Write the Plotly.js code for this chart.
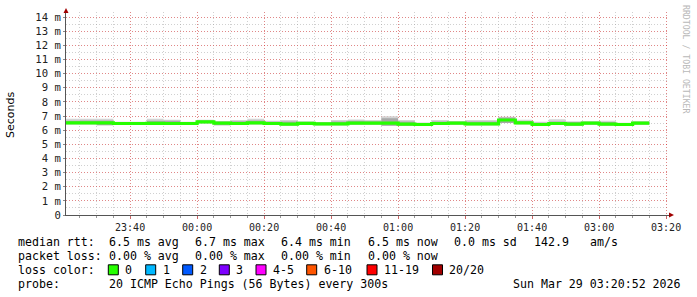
<!DOCTYPE html>
<html>
<head>
<meta charset="utf-8">
<script src="https://cdn.plot.ly/plotly-3.0.1.min.js"></script>
<style>
html,body{margin:0;padding:0;background:#fff;}
#chart{width:697px;height:297px;}
</style>
</head>
<body>
<div id="chart"></div>
<script>
// ---- data (5-minute bins, times in CET, first bin starts 23:20) ----
const firstBin = "2026-03-28 23:20:00";
const stepSeconds = 300;
const medianRtt = [6.52,6.52,6.52,6.47,6.47,6.48,6.47,6.47,6.58,6.50,6.47,6.52,6.47,6.43,6.48,6.45,6.45,6.50,6.50,6.50,6.42,6.40,6.47,6.50,6.45,6.45,6.72,6.52,6.40,6.47,6.42,6.50,6.43,6.40,6.50];
const pingMax   = [6.80,6.80,6.80,6.60,6.60,6.80,6.74,6.60,6.73,6.65,6.71,6.80,6.67,6.71,6.63,6.58,6.71,6.75,6.71,6.98,6.71,6.54,6.71,6.64,6.71,6.71,6.95,6.73,6.59,6.77,6.63,6.63,6.67,6.53,6.63];
const pingQ3    = [6.67,6.69,6.69,6.56,6.56,6.67,6.67,6.56,6.69,6.60,6.63,6.69,6.59,6.62,6.58,6.54,6.62,6.67,6.63,6.85,6.62,6.50,6.62,6.60,6.61,6.62,6.89,6.65,6.53,6.62,6.57,6.59,6.57,6.50,6.59];
const pingMin   = [6.41,6.41,6.34,6.37,6.37,6.38,6.37,6.37,6.48,6.34,6.37,6.41,6.37,6.33,6.38,6.35,6.35,6.40,6.40,6.32,6.32,6.30,6.37,6.40,6.35,6.35,6.51,6.42,6.30,6.37,6.32,6.40,6.33,6.30,6.40];

const xRange = ["2026-03-28 23:20:52", "2026-03-29 02:20:52"];
const tickTimes = ["2026-03-28 23:40","2026-03-29 00:00","2026-03-29 00:20","2026-03-29 00:40","2026-03-29 01:00","2026-03-29 01:20","2026-03-29 01:40","2026-03-29 02:00","2026-03-29 02:20"];
const tickLabels = ["23:40","00:00","00:20","00:40","01:00","01:20","01:40","03:00","03:20"];
const yTickVals = [0,1,2,3,4,5,6,7,8,9,10,11,12,13,14];
const yTickLabels = ["0","1 m","2 m","3 m","4 m","5 m","6 m","7 m","8 m","9 m","10 m","11 m","12 m","13 m","14 m"];

const statsLine1 = ["median rtt:", "6.5 ms avg", "6.7 ms max", "6.4 ms min", "6.5 ms now", "0.0 ms sd", "142.9", "am/s"];
const statsLine2 = ["packet loss:", "0.00 % avg", "0.00 % max", "0.00 % min", "0.00 % now"];
const lossLabels = ["0","1","2","3","4-5","6-10","11-19","20/20"];
const lossColors = ["#26ff00","#00b8ff","#0059ff","#7e00ff","#ff00ff","#ff5500","#ff0000","#a10000"];
const probeText = "20 ICMP Echo Pings (56 Bytes) every 300s";
const dateText = "Sun Mar 29 03:20:52 2026";

// ---- build step x positions ----
function fmt(ms){ return new Date(ms).toISOString().slice(0,19).replace("T"," "); }
const t0 = Date.parse(firstBin.replace(" ","T")+"Z");
const xs = [];
for(let i=0;i<=medianRtt.length;i++) xs.push(fmt(t0 + i*stepSeconds*1000));
function ext(a){ return a.concat([a[a.length-1]]); }

const base = {x: xs, mode:"lines", line:{shape:"hv", width:0}, hoverinfo:"skip", showlegend:false};
const traces = [
  Object.assign({}, base, {y: ext(pingMin)}),
  Object.assign({}, base, {y: ext(pingMax), fill:"tonexty", fillcolor:"#d4d4d4"}),
  Object.assign({}, base, {y: ext(pingMin)}),
  Object.assign({}, base, {y: ext(pingQ3), fill:"tonexty", fillcolor:"#a8a8a8"}),
  {x: xs, y: ext(medianRtt), mode:"lines", line:{shape:"hv", width:3.2, color:lossColors[0]}, hoverinfo:"skip", showlegend:false}
];

// ---- geometry helpers (pixel -> paper) ----
const L=66, R=669, T=12, B=215;
const px = v => (v-L)/(R-L);
const py = v => (B-v)/(B-T);

const mono = "DejaVu Sans Mono";
const annotations = [];
function txt(x,y,s,anchor){
  annotations.push({xref:"paper",yref:"paper",x:px(x),y:py(y),text:s,showarrow:false,
    xanchor:anchor||"left",yanchor:"middle",font:{family:mono,size:11.6,color:"#000"}});
}
const line1X = [16,107.3,193.3,279.3,365.5,451.5,532,588];
statsLine1.forEach((s,i)=>txt(line1X[i],241.5,s));
statsLine2.forEach((s,i)=>txt(line1X[i],255.7,s));
txt(16,269.8,"loss color:");
const boxX = [108.3,145.7,182.7,219.3,256,306.7,367,432.5];
const shapes = [];
lossLabels.forEach((s,i)=>{
  txt(boxX[i]+15,269.8,s);
  shapes.push({type:"rect",xref:"paper",yref:"paper",x0:px(boxX[i]),x1:px(boxX[i]+10),y0:py(274.8),y1:py(264.8),
    fillcolor:lossColors[i],line:{color:"#000",width:1}});
});
txt(16,284,"probe:");
txt(107.3,284,probeText);
txt(683,284,dateText,"right");

// watermark
annotations.push({xref:"paper",yref:"paper",x:px(686),y:py(59),text:"RRDTOOL / TOBI OETIKER",showarrow:false,
  textangle:90,xanchor:"center",yanchor:"middle",font:{family:mono,size:8.2,color:"#b8b8b8"}});
// y title
annotations.push({xref:"paper",yref:"paper",x:px(11),y:py(115),text:"Seconds",showarrow:false,
  textangle:-90,xanchor:"center",yanchor:"middle",font:{family:"DejaVu Sans",size:11,color:"#000"}});

// axis arrows
shapes.push({type:"path",xref:"paper",yref:"paper",line:{width:0},fillcolor:"#a00000",
  path:`M ${px(63.5)} ${py(13)} L ${px(68.5)} ${py(13)} L ${px(66)} ${py(8)} Z`});
shapes.push({type:"path",xref:"paper",yref:"paper",line:{width:0},fillcolor:"#a00000",
  path:`M ${px(669)} ${py(212.5)} L ${px(669)} ${py(217.5)} L ${px(674)} ${py(215)} Z`});

const majorGrid = "rgba(255,0,0,0.35)";
const minorGrid = "rgba(150,150,150,0.45)";

const layout = {
  width:697, height:297,
  margin:{l:L, r:697-R, t:T, b:297-B, pad:0},
  paper_bgcolor:"#fff", plot_bgcolor:"#fff",
  showlegend:false,
  xaxis:{type:"date", range:xRange, tickmode:"array", tickvals:tickTimes, ticktext:tickLabels,
    showgrid:true, gridcolor:majorGrid, griddash:"1px,2px", gridwidth:1,
    minor:{tick0:firstBin, dtick:stepSeconds*1000, showgrid:true, gridcolor:minorGrid, griddash:"1px,2px", ticks:"outside", ticklen:2, tickcolor:"#999"},
    showline:true, linecolor:"#555", linewidth:1, zeroline:false,
    ticks:"outside", ticklen:3, tickcolor:"#c66",
    tickfont:{family:mono, size:10, color:"#222"}, fixedrange:true},
  yaxis:{range:[0,(B-T)/14.14], tickmode:"array", tickvals:yTickVals, ticktext:yTickLabels,
    showgrid:true, gridcolor:majorGrid, griddash:"1px,2px", gridwidth:1,
    minor:{dtick:0.5, showgrid:true, gridcolor:minorGrid, griddash:"1px,2px"},
    showline:true, linecolor:"#555", linewidth:1, zeroline:false,
    ticks:"outside", ticklen:2, tickcolor:"#888",
    tickfont:{family:mono, size:10.6, color:"#222"}, fixedrange:true},
  annotations:annotations,
  shapes:shapes
};

Plotly.newPlot("chart", traces, layout, {staticPlot:true, displayModeBar:false});
</script>
</body>
</html>
